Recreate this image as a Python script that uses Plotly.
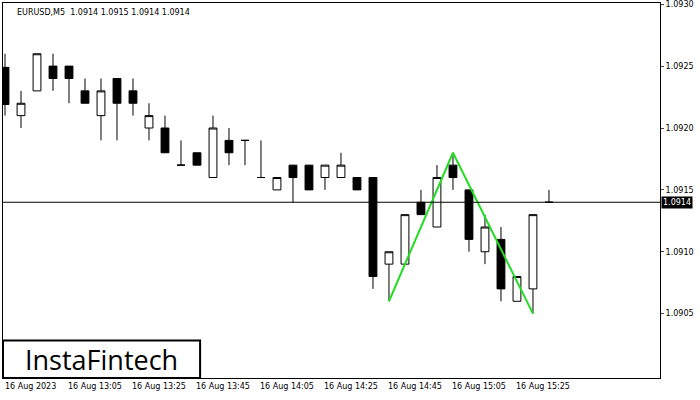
import plotly.graph_objects as go

opens  = [1.09249,1.0921,1.0923,1.0925,1.0925,1.0923,1.0921,1.0924,1.0923,1.0920,1.0920,1.0917,1.0918,1.0916,1.0919,1.0919,1.0916,1.0915,1.0917,1.0917,1.0916,1.0916,1.0916,1.0916,1.0909,1.0909,1.0914,1.0912,1.0917,1.0915,1.0910,1.0911,1.0906,1.0907,1.0914]
closes = [1.09219,1.0922,1.0926,1.0924,1.0924,1.0922,1.0923,1.0922,1.0922,1.0921,1.0918,1.0917,1.0917,1.0920,1.0918,1.0919,1.0916,1.0916,1.0916,1.0915,1.0917,1.0917,1.0915,1.0908,1.0910,1.0913,1.0913,1.0916,1.0916,1.0911,1.0912,1.0907,1.0908,1.0913,1.0914]
highs  = [1.0926,1.0923,1.0926,1.0926,1.0925,1.0924,1.0924,1.0924,1.0924,1.0922,1.0921,1.0919,1.0918,1.0921,1.0920,1.0919,1.0919,1.0916,1.0917,1.0917,1.0917,1.0918,1.0916,1.0916,1.0910,1.0913,1.0915,1.0917,1.0918,1.0915,1.0913,1.0912,1.0908,1.0913,1.0915]
lows   = [1.0921,1.0920,1.0923,1.0923,1.0922,1.0922,1.0919,1.0919,1.0921,1.0919,1.0918,1.0917,1.0917,1.0916,1.0917,1.0917,1.0916,1.0915,1.0914,1.0915,1.0915,1.0916,1.0915,1.0907,1.0906,1.0909,1.0913,1.0912,1.0915,1.0910,1.0909,1.0906,1.0906,1.0905,1.0914]
idx = list(range(len(opens)))

pattern_x = [24, 28, 33]
pattern_y = [1.0906, 1.0918, 1.0905]

time_labels = ["16 Aug 2023","16 Aug 13:05","16 Aug 13:25","16 Aug 13:45","16 Aug 14:05",
               "16 Aug 14:25","16 Aug 14:45","16 Aug 15:05","16 Aug 15:25"]
label_pos = [-0.1, 3.8, 7.8, 11.8, 15.8, 19.8, 23.8, 27.8, 31.8]
price_ticks = [1.0905, 1.0910, 1.0915, 1.0920, 1.0925, 1.0930]
last_price = 1.0914

fig = go.Figure()
fig.add_trace(go.Candlestick(
    x=idx, open=opens, high=highs, low=lows, close=closes,
    increasing=dict(fillcolor="white", line=dict(color="black", width=1)),
    decreasing=dict(fillcolor="black", line=dict(color="black", width=1)),
    whiskerwidth=0, showlegend=False))
fig.add_trace(go.Scatter(x=pattern_x, y=pattern_y, mode="lines",
                         line=dict(color="#22dd22", width=2), showlegend=False))

fig.add_hline(y=last_price, line=dict(color="black", width=1))
fig.add_annotation(x=1, xref="paper", y=last_price, yref="y", xanchor="left",
                   text="1.0914", showarrow=False, bgcolor="black", borderpad=1,
                   font=dict(color="white", size=8), xshift=1)
for lab, p in zip(time_labels, label_pos):
    fig.add_annotation(x=p, y=0, xref="x", yref="paper", yanchor="top", xanchor="left",
                       text=lab, showarrow=False, font=dict(size=8, color="black"), yshift=-2)
fig.add_annotation(x=0, y=1, xref="paper", yref="paper", xanchor="left", yanchor="top",
                   text="EURUSD,M5  1.0914 1.0915 1.0914 1.0914", showarrow=False,
                   font=dict(size=8, color="black"), xshift=12, yshift=-3)
fig.add_shape(type="rect", xref="paper", yref="paper", x0=0, x1=0.30, y0=0, y1=0.10,
              line=dict(color="black", width=2), fillcolor="white", layer="above")
fig.add_annotation(x=0.15, y=0.05, xref="paper", yref="paper", text="InstaFintech",
                   xanchor="center", yanchor="middle",
                   showarrow=False, font=dict(size=27, color="black", family="Open Sans"))

fig.update_layout(
    width=700, height=400, margin=dict(l=3, r=40, t=3, b=22, autoexpand=False),
    paper_bgcolor="white", plot_bgcolor="white",
    font=dict(family="DejaVu Sans", size=8, color="black"),
    xaxis=dict(range=[-0.125, 40.94], showticklabels=False, showgrid=False, zeroline=False,
               rangeslider=dict(visible=False), showline=True, linecolor="black", mirror=True,
               automargin=False),
    yaxis=dict(range=[1.08998, 1.09301], side="right", tickvals=price_ticks,
               ticktext=[f"{v:.4f}" for v in price_ticks], ticks="outside", ticklen=3,
               showgrid=False, zeroline=False, automargin=False,
               showline=True, linecolor="black", mirror=True),
)
fig.write_html("out.html", config={"displayModeBar": False},
               post_script="document.body.style.margin='0';")
